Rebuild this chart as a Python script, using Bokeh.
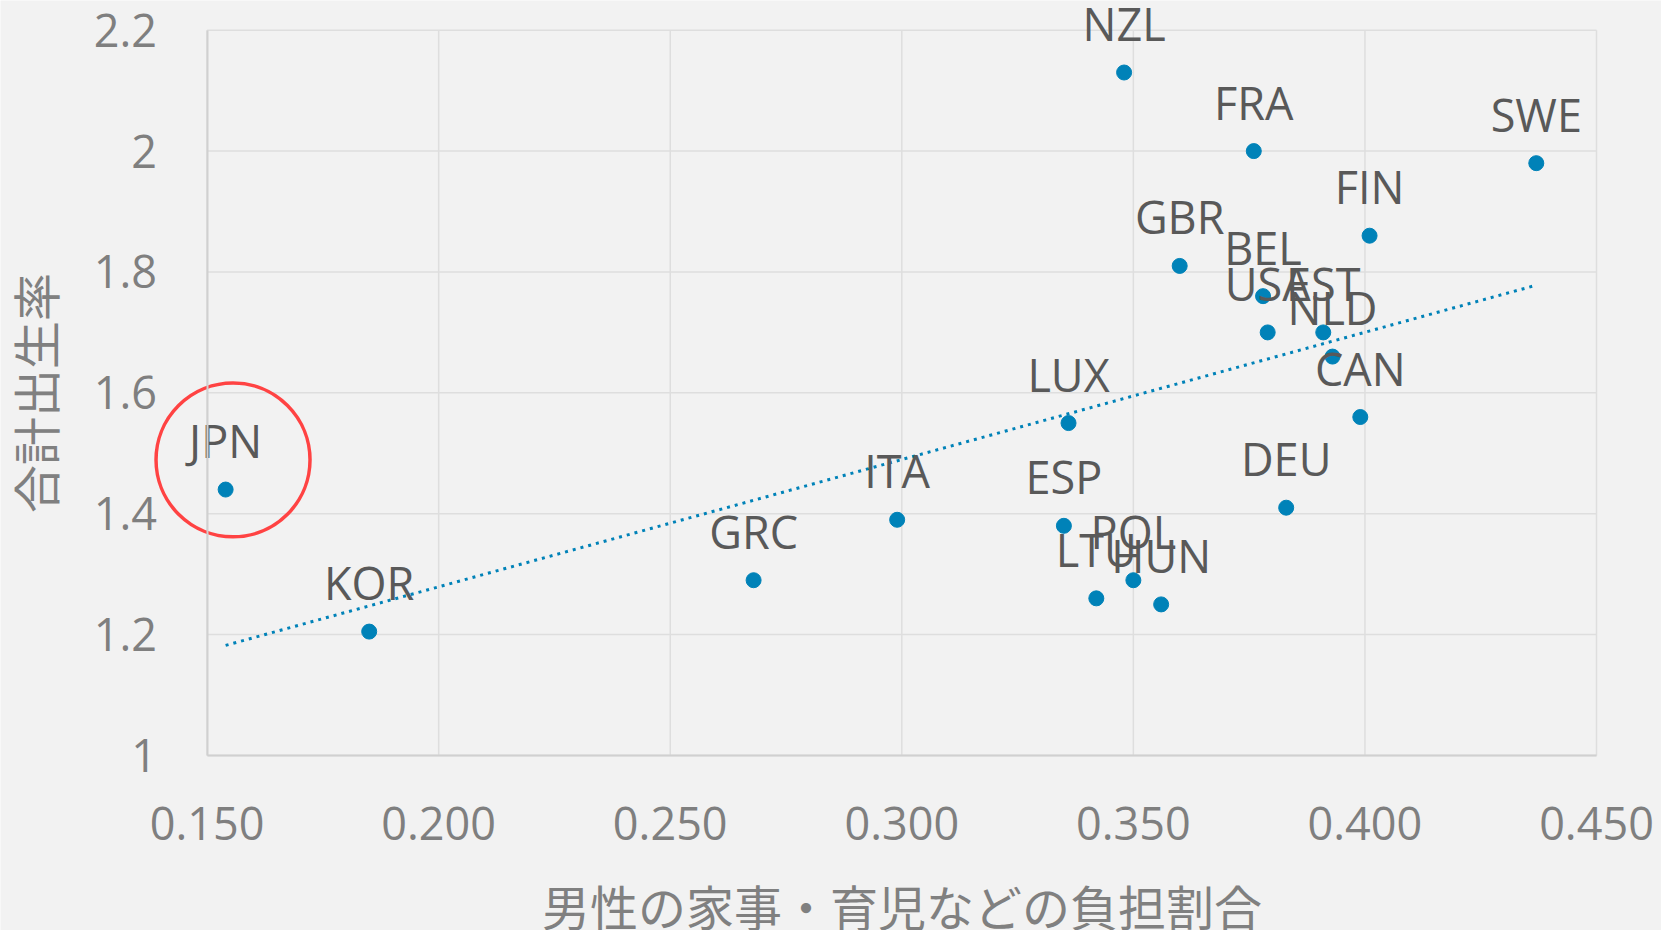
import numpy as np
from bokeh.plotting import figure
from bokeh.models import Range1d, FixedTicker, NumeralTickFormatter, ColumnDataSource
from bokeh.core.properties import value
from bokeh.embed import file_html
from bokeh.resources import INLINE

# ---- data ----
countries = ["JPN", "KOR", "GRC", "ITA", "LUX", "ESP", "LTU", "POL", "HUN", "DEU",
             "CAN", "NLD", "EST", "USA", "BEL", "GBR", "FIN", "FRA", "SWE", "NZL"]
male_share = [0.154, 0.185, 0.268, 0.299, 0.336, 0.335, 0.342, 0.350, 0.356, 0.383,
              0.399, 0.393, 0.391, 0.379, 0.378, 0.360, 0.401, 0.376, 0.437, 0.348]
tfr = [1.44, 1.205, 1.29, 1.39, 1.55, 1.38, 1.26, 1.29, 1.25, 1.41,
       1.56, 1.66, 1.70, 1.70, 1.76, 1.81, 1.86, 2.00, 1.98, 2.13]
x_ticks = [0.15, 0.20, 0.25, 0.30, 0.35, 0.40, 0.45]
y_ticks = [1.0, 1.2, 1.4, 1.6, 1.8, 2.0, 2.2]
x_title = "男性の家事・育児などの負担割合"
y_title = "合計出生率"
highlight = "JPN"

# ---- style / layout ----
BG = "#F2F2F2"
BLUE = "#0082B8"
GRID = "#DEDEDE"
NUM_FONT = "Open Sans"
JP_FONT = "Noto Sans CJK JP"

W, H = 1661, 930
PL, PR, PT, PB = 206.6, 1596.0, 29.7, 755.0   # plot-area edges on the canvas (px)
ux = (x_ticks[-1] - x_ticks[0]) / (PR - PL)   # data units per pixel
uy = (y_ticks[-1] - y_ticks[0]) / (PB - PT)
# the frame covers the whole canvas so that labels near the edges are not clipped
x_start = x_ticks[0] - PL * ux
x_end = x_ticks[-1] + (W - PR) * ux
y_start = y_ticks[0] - (H - PB) * uy
y_end = y_ticks[-1] + PT * uy

p = figure(width=W, height=H, output_backend="svg", toolbar_location=None,
           x_range=Range1d(x_start, x_end), y_range=Range1d(y_start, y_end),
           min_border=0, background_fill_color=BG, border_fill_color=BG,
           outline_line_color=None)
p.xgrid.visible = False
p.ygrid.visible = False

p.xaxis.ticker = FixedTicker(ticks=x_ticks)
p.yaxis.ticker = FixedTicker(ticks=y_ticks)
p.xaxis.formatter = NumeralTickFormatter(format="0.000")
p.yaxis.formatter = NumeralTickFormatter(format="0.[0]")
p.xaxis.bounds = (x_ticks[0], x_ticks[-1])
p.yaxis.bounds = (y_ticks[0], y_ticks[-1])
p.xaxis.fixed_location = y_ticks[0]
p.yaxis.fixed_location = x_ticks[0]

# gridlines limited to the plot area
nx, ny = len(x_ticks), len(y_ticks)
p.segment(x0=x_ticks, y0=[y_ticks[0]] * nx, x1=x_ticks, y1=[y_ticks[-1]] * nx,
          line_color=GRID, line_width=1.5)
p.segment(x0=[x_ticks[0]] * ny, y0=y_ticks, x1=[x_ticks[-1]] * ny, y1=y_ticks,
          line_color=GRID, line_width=1.5)

for ax in (p.xaxis, p.yaxis):
    ax.axis_line_color = "#D0D0D0"
    ax.axis_line_width = 2
    ax.major_tick_line_color = None
    ax.minor_tick_line_color = None
    ax.major_tick_out = 0
    ax.major_tick_in = 0
    ax.major_label_text_font = NUM_FONT
    ax.major_label_text_font_size = "45px"
    ax.major_label_text_color = "#7F7F7F"
    ax.axis_label_text_font = JP_FONT
    ax.axis_label_text_font_size = "48px"
    ax.axis_label_text_font_style = "normal"
    ax.axis_label_text_color = "#808080"

p.xaxis.axis_label = x_title
p.yaxis.axis_label = y_title
p.xaxis.major_label_standoff = 51
p.xaxis.axis_label_standoff = 27
p.yaxis.major_label_standoff = 50
p.yaxis.axis_label_standoff = 22

# trendline (least-squares fit of the data)
slope, intercept = np.polyfit(male_share, tfr, 1)
tx = [min(male_share), max(male_share)]
ty = [slope * v + intercept for v in tx]
p.line(tx, ty, line_color=BLUE, line_width=3, line_dash="3 5")

src = ColumnDataSource(dict(x=male_share, y=tfr, name=countries))
p.scatter("x", "y", source=src, size=15, fill_color=BLUE, line_color=BLUE)
p.text("x", "y", text="name", source=src, y_offset=-49, text_align="center",
       text_baseline="middle", text_font=value(NUM_FONT), text_font_size="45px",
       text_color="#595959")

# red highlight ring around the Japan point and its label
i = countries.index(highlight)
p.circle(x=[male_share[i] + 7.4 * ux], y=[tfr[i] + 29.7 * uy], radius=77, radius_units="screen",
         fill_color=None, line_color="#FF4343", line_width=3.5)

open("out.html", "w").write(file_html(p, INLINE))
